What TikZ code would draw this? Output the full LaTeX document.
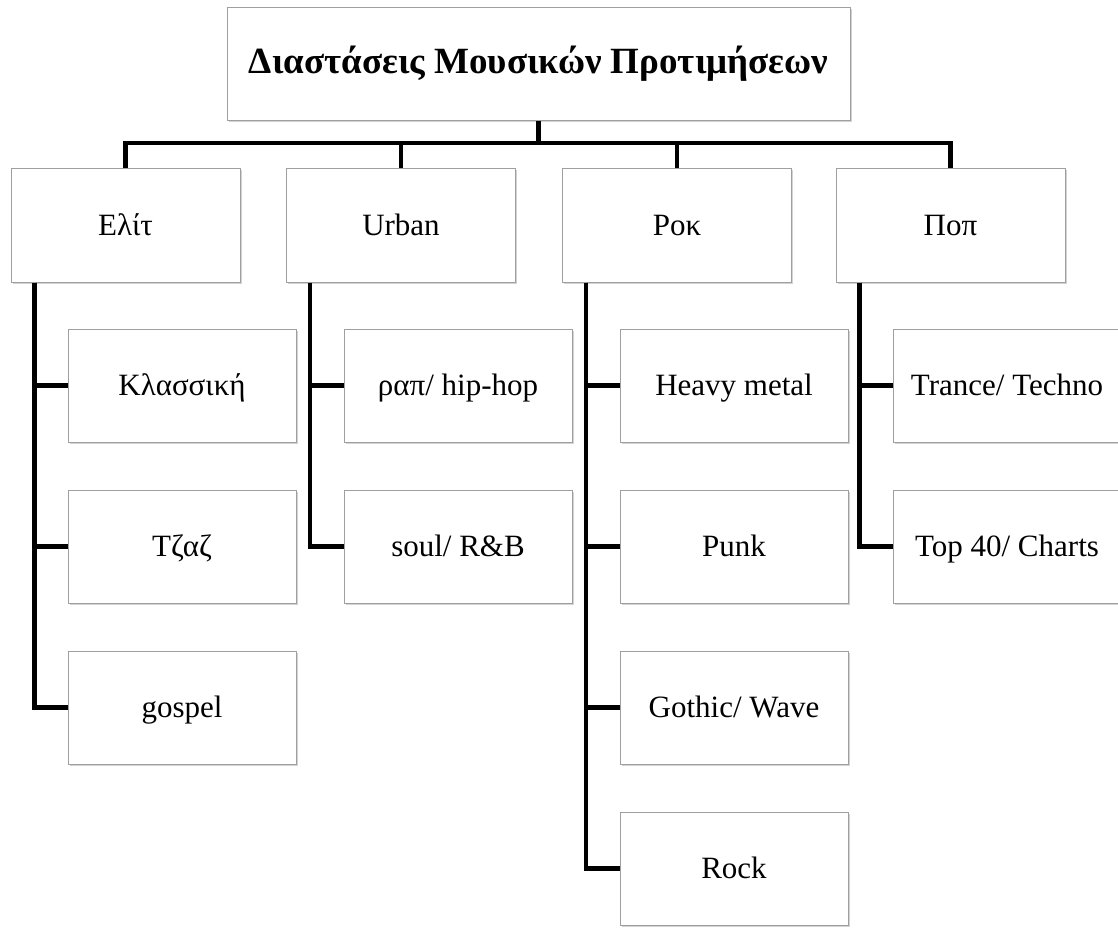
\documentclass[tikz,border=0pt]{standalone}
\usepackage{fontspec}
\setmainfont{Liberation Serif}
\usetikzlibrary{positioning,shadows}

\tikzset{
  box/.style = {draw=gray!75, line width=0.5pt, fill=white,
    drop shadow={shadow xshift=0.8pt, shadow yshift=-0.9pt, opacity=0.35},
    minimum width=114.5pt, minimum height=57pt, inner sep=0pt,
    text height=1em, text depth=0pt,
    font=\fontsize{15.5pt}{18pt}\selectfont},
  leaf/.style = {box, minimum width=114pt, minimum height=56.5pt},
  link/.style = {line width=2.1pt, black}
}

\begin{document}
\begin{tikzpicture}[x=0.5pt, y=-0.5pt]
  \useasboundingbox (0,0) rectangle (1118,928);

  \node[box, minimum width=311.5pt, minimum height=56.5pt,
        font=\bfseries\fontsize{18.5pt}{22pt}\selectfont] (root) at (538.5,63.5)
        {Διαστάσεις Μουσικών Προτιμήσεων};

  \node[box] (elit)  at (125.5,225) {Ελίτ};
  \node[box] (urban) at (401,225)   {Urban};
  \node[box] (rok)   at (677,225)   {Ροκ};
  \node[box] (pop)   at (950.5,225) {Ποπ};

  % Ελίτ
  \node[leaf] (klass)  at (182,385.5)          {Κλασσική};
  \node[leaf, below=23.5pt of klass] (tzaz)    {Τζαζ};
  \node[leaf, below=23.5pt of tzaz] (gospel)   {gospel};

  % Urban
  \node[leaf] (rap)    at (458,385.5)          {ραπ/ hip-hop};
  \node[leaf, below=23.5pt of rap] (soul)      {soul/ R\&B};

  % Ροκ
  \node[leaf] (metal)  at (734,385.5)          {Heavy metal};
  \node[leaf, below=23.5pt of metal] (punk)    {Punk};
  \node[leaf, below=23.5pt of punk] (gothic)   {Gothic/ Wave};
  \node[leaf, below=23.5pt of gothic] (rock)   {Rock};

  % Ποπ
  \node[leaf] (trance) at (1007,385.5)         {Trance/ Techno};
  \node[leaf, below=23.5pt of trance] (top)    {Top 40/ Charts};

  \coordinate (bar) at (538.5,143);
  \draw[link] (root.south) -- (bar);
  \draw[link] (elit.north) |- (bar);
  \draw[link] (urban.north) |- (bar);
  \draw[link] (rok.north) |- (bar);
  \draw[link] (pop.north) |- (bar);

  \draw[link] ([xshift=12pt]elit.south west) |- (klass.west);
  \draw[link] ([xshift=12pt]elit.south west) |- (tzaz.west);
  \draw[link] ([xshift=12pt]elit.south west) |- (gospel.west);

  \draw[link] ([xshift=12pt]urban.south west) |- (rap.west);
  \draw[link] ([xshift=12pt]urban.south west) |- (soul.west);

  \draw[link] ([xshift=12pt]rok.south west) |- (metal.west);
  \draw[link] ([xshift=12pt]rok.south west) |- (punk.west);
  \draw[link] ([xshift=12pt]rok.south west) |- (gothic.west);
  \draw[link] ([xshift=12pt]rok.south west) |- (rock.west);

  \draw[link] ([xshift=12pt]pop.south west) |- (trance.west);
  \draw[link] ([xshift=12pt]pop.south west) |- (top.west);
\end{tikzpicture}
\end{document}
